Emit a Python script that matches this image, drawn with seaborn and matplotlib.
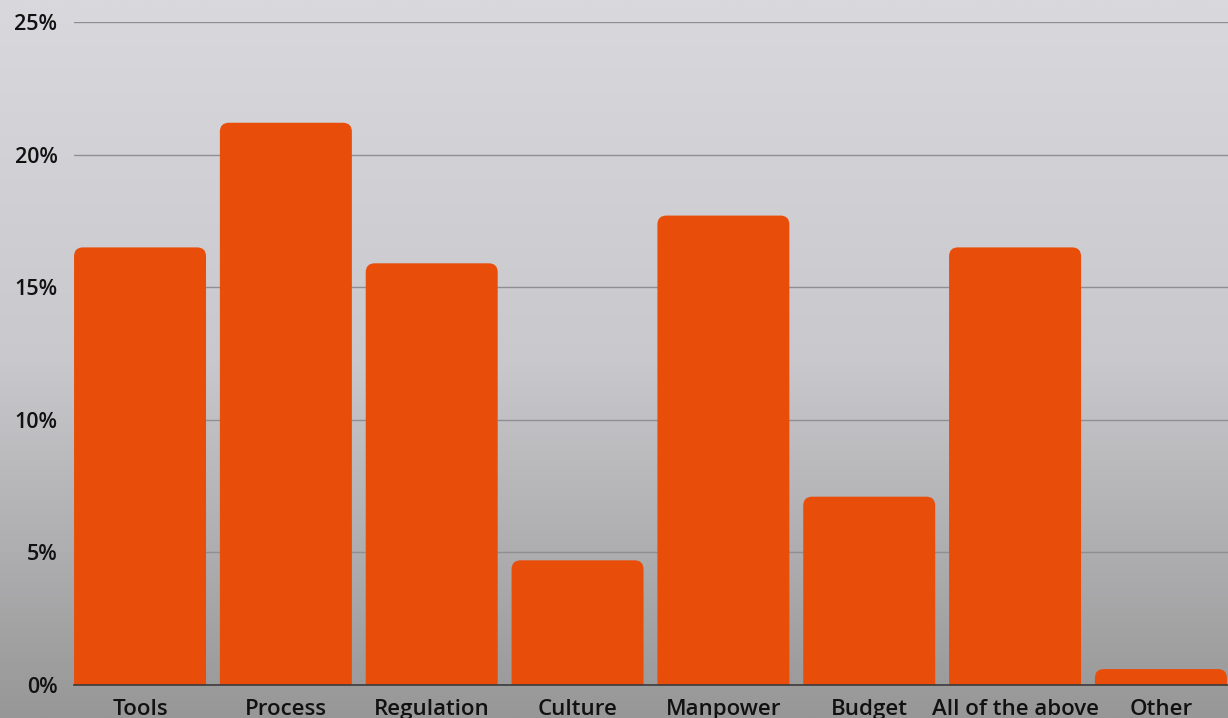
import numpy as np
import pandas as pd
import matplotlib
matplotlib.use("Agg")
import matplotlib.pyplot as plt
from matplotlib.patches import FancyBboxPatch
import seaborn as sns

categorias = ["Tools", "Process", "Regulation", "Culture", "Manpower",
              "Budget", "All of the above", "Other"]
percentuais = [16.5, 21.2, 15.9, 4.7, 17.7, 7.1, 16.5, 0.6]
y_ticks = [0, 5, 10, 15, 20, 25]

cor_barra = "#E84E0A"

sns.set_theme(style="white")
plt.rcParams["font.family"] = ["Open Sans", "DejaVu Sans"]

df = pd.DataFrame({"categoria": categorias, "valor": percentuais})

fig = plt.figure(figsize=(12.28, 7.18), dpi=100)

# fundo em degradê
bg = fig.add_axes([0, 0, 1, 1], zorder=-10)
grad = np.linspace(0, 1, 256).reshape(-1, 1)
cmap = matplotlib.colors.LinearSegmentedColormap.from_list(
    "bg", ["#d9d8dd", "#c9c8cc", "#979797"])
bg.imshow(grad, aspect="auto", cmap=cmap, extent=[0, 1, 0, 1], origin="upper")
bg.axis("off")

ax = fig.add_axes([0.0603, 0.046, 0.9397, 0.9234])
ax.patch.set_alpha(0)

largura = 0.905
sns.barplot(data=df, x="categoria", y="valor", color=cor_barra,
            width=largura, saturation=1, ax=ax, zorder=3)

x_min, x_max = -largura / 2, 7.46
ax.set_xlim(x_min, x_max)
ax.set_ylim(0, 25)

# trocar retângulos por barras com cantos arredondados
ax_w = 0.9397 * 1228
ax_h = 0.9234 * 718
px_x = (x_max - x_min) / ax_w   # unidades de dados por pixel
px_y = 25 / ax_h
raio = 9
for p in list(ax.patches):
    x, w, h = p.get_x(), p.get_width(), p.get_height()
    p.remove()
    rx = raio * px_x
    ry = raio * px_y
    fb = FancyBboxPatch((x + rx, 0), w - 2 * rx, h - ry,
                        boxstyle=f"round,pad={rx}",
                        mutation_aspect=px_y / px_x,
                        facecolor=cor_barra, edgecolor="none", zorder=3)
    ax.add_patch(fb)
    fb.set_clip_path(ax.patch)

ax.set_yticks(y_ticks)
ax.set_yticklabels([f"{t}%" for t in y_ticks])
ax.yaxis.grid(True, color="#8f8f93", linewidth=1, zorder=0)
ax.set_axisbelow(True)

for s in ["top", "right", "left"]:
    ax.spines[s].set_visible(False)
ax.spines["bottom"].set_color("#3a3a3a")
ax.spines["bottom"].set_linewidth(1.2)
ax.spines["bottom"].set_zorder(5)

ax.tick_params(axis="y", length=0, pad=12, labelsize=15.5, labelcolor="#111111")
ax.tick_params(axis="x", length=0, pad=10, labelsize=16, labelcolor="#111111")
for lab in ax.get_xticklabels() + ax.get_yticklabels():
    lab.set_fontweight("semibold")
ax.set_xlabel("")
ax.set_ylabel("")

fig.savefig("out.png", dpi=100)
